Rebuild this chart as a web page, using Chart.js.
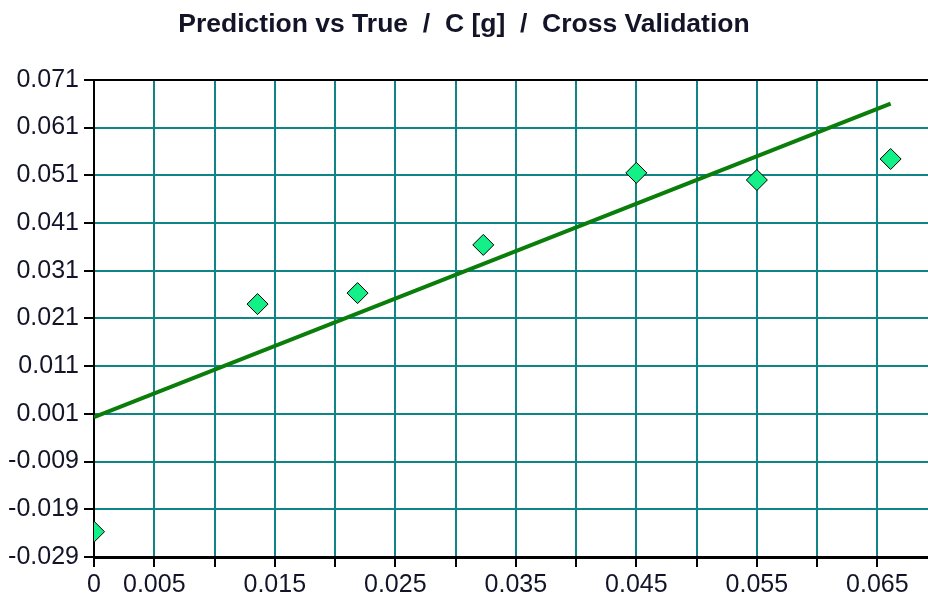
<!DOCTYPE html>
<html>
<head>
<meta charset="utf-8">
<title>Prediction vs True</title>
<script src="https://cdn.jsdelivr.net/npm/chart.js@4.4.1/dist/chart.umd.min.js"></script>
<style>
    html, body { margin: 0; padding: 0; background: #ffffff; }
    #predChart { display: block; }
</style>
</head>
<body>
<canvas id="predChart" width="928" height="599"></canvas>
<script>
// Cross validation samples: true value vs predicted value
const trueValues = [0, 0.01357, 0.02187, 0.0323, 0.045, 0.055, 0.0661];
const predValues = [-0.0237, 0.0240, 0.0263, 0.0364, 0.0515, 0.0500, 0.0544];

// Fitted line endpoints
const fitX = [0, 0.0661];
const fitY = [0.0003, 0.0660];

// Axis ticks
const xTickValues = [0, 0.005, 0.01, 0.015, 0.02, 0.025, 0.03, 0.035, 0.04, 0.045, 0.05, 0.055, 0.06, 0.065];
const xTickLabels = ['0', '0.005', '', '0.015', '', '0.025', '', '0.035', '', '0.045', '', '0.055', '', '0.065'];
const yTickValues = [-0.029, -0.019, -0.009, 0.001, 0.011, 0.021, 0.031, 0.041, 0.051, 0.061, 0.071];
const yTickLabels = ['-0.029', '-0.019', '-0.009', '0.001', '0.011', '0.021', '0.031', '0.041', '0.051', '0.061', '0.071'];

const GRID = '#0f8585';
const TEXT = '#141428';
const tickFont = { family: 'Arial, "Liberation Sans", sans-serif', size: 25 };

const predPoints = trueValues.map((x, i) => ({ x: x, y: predValues[i] }));
const fitPoints = fitX.map((x, i) => ({ x: x, y: fitY[i] }));

new Chart(document.getElementById('predChart'), {
    type: 'scatter',
    data: {
        datasets: [{
            type: 'line',
            data: fitPoints,
            borderColor: '#0a7d0a',
            borderWidth: 4,
            pointRadius: 0,
            fill: false,
            clip: 0,
            order: 2
        }, {
            data: predPoints,
            pointStyle: 'rectRot',
            pointRadius: 10.5,
            pointBackgroundColor: '#14f088',
            pointBorderColor: '#000000',
            pointBorderWidth: 1,
            clip: 0,
            order: 1
        }]
    },
    options: {
        responsive: false,
        animation: false,
        // plot runs right up to the canvas edge, no room reserved for markers
        layout: { padding: 0, autoPadding: false },
        plugins: {
            legend: { display: false },
            tooltip: { enabled: false },
            title: {
                display: true,
                text: 'Prediction vs True  /  C [g]  /  Cross Validation',
                color: TEXT,
                font: { family: 'Arial, "Liberation Sans", sans-serif', size: 26.5, weight: 'bold', lineHeight: 1.2 },
                padding: { top: 9, bottom: 39 }
            }
        },
        scales: {
            x: {
                type: 'linear',
                min: 0,
                max: 0.0692,
                afterBuildTicks: scale => {
                    scale.ticks = xTickValues.map(v => ({ value: v }));
                },
                afterFit: scale => {
                    scale.height = 42;
                    scale.paddingRight = 0;
                    scale.paddingLeft = 0;
                },
                ticks: {
                    autoSkip: false,
                    maxRotation: 0,
                    padding: 3,
                    color: TEXT,
                    font: tickFont,
                    callback: (value, index) => xTickLabels[index]
                },
                grid: {
                    color: GRID,
                    lineWidth: 2,
                    tickColor: '#000000',
                    tickLength: 10
                },
                border: { color: '#000000', width: 3 }
            },
            y: {
                type: 'linear',
                min: -0.029,
                max: 0.071,
                afterBuildTicks: scale => {
                    scale.ticks = yTickValues.map(v => ({ value: v }));
                },
                afterFit: scale => { scale.width = 94; },
                ticks: {
                    autoSkip: false,
                    padding: 5,
                    color: TEXT,
                    font: tickFont,
                    callback: (value, index) => yTickLabels[index]
                },
                grid: {
                    // top line of the frame is black
                    color: ctx => (ctx.tick && ctx.tick.value === 0.071 ? '#000000' : GRID),
                    lineWidth: 2,
                    tickColor: '#000000',
                    tickLength: 10
                },
                border: { color: '#000000', width: 2 }
            }
        }
    }
});
</script>
</body>
</html>
